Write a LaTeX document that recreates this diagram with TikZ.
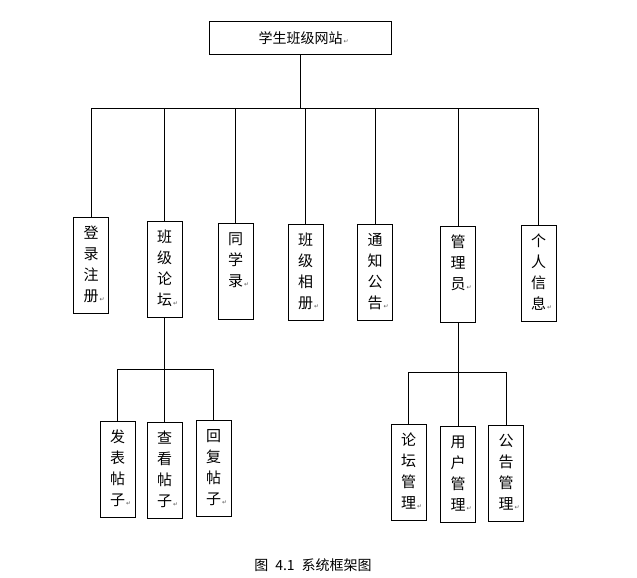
\documentclass[tikz,border=0pt]{standalone}
\usepackage{fontspec}
\newfontfamily\cjk{Noto Sans CJK SC}
\newfontfamily\symfont{DejaVu Sans}
\newcommand\ret{\rlap{\kern1pt\textcolor{black!65}{\symfont\fontsize{6}{6}\selectfont ↵}}}
\newcommand\vlabel[1]{\parbox[c][96pt][t]{35pt}{\centering\rule{0pt}{21pt}#1\ret}}
\tikzset{
  box/.style={draw, line width=1pt, inner sep=0pt, minimum width=35pt, minimum height=96pt, anchor=north, font=\cjk\fontsize{15}{21}\selectfont},
  wire/.style={line width=0.7pt},
}
\begin{document}
\begin{tikzpicture}[x=1pt,y=-1pt]
    \useasboundingbox (0,0) rectangle (637,578);
    \node[draw, line width=1pt, inner sep=0pt, minimum width=182pt, minimum height=33pt, font=\cjk\fontsize{14}{16}\selectfont] (site) at (300.5,38.5) {学生班级网站\ret};

    % second level
    \coordinate (bus) at (0,108);
    \foreach \x/\y/\name/\txt in {91/217/reg/{登\\录\\注\\册}, 164.5/221/forum/{班\\级\\论\\坛},
        235.5/223/alumni/{同\\学\\录}, 305.5/224/album/{班\\级\\相\\册}, 375/224/notice/{通\\知\\公\\告},
        458/226/admin/{管\\理\\员}, 538.5/225/info/{个\\人\\信\\息}} {
        \node[box] (\name) at (\x,\y) {\vlabel{\txt}};
        \draw[wire] (\name.north) -- (\name.north |- bus);
    }
    \draw[wire] (reg.north |- bus) -- (info.north |- bus);
    \draw[wire] (site.south) -- (site.south |- bus);

    % forum
    \coordinate (fbus) at (0,369);
    \foreach \x/\y/\name/\txt in {117.5/421/post/{发\\表\\帖\\子}, 164.5/422/view/{查\\看\\帖\\子},
        213.5/420/reply/{回\\复\\帖\\子}} {
        \node[box] (\name) at (\x,\y) {\vlabel{\txt}};
        \draw[wire] (\name.north) -- (\name.north |- fbus);
    }
    \draw[wire] (post.north |- fbus) -- (reply.north |- fbus);
    \draw[wire] (forum.south) -- (forum.south |- fbus);

    % admin
    \coordinate (abus) at (0,372);
    \foreach \x/\y/\name/\txt in {408.5/424/fmgr/{论\\坛\\管\\理}, 458/426/umgr/{用\\户\\管\\理},
        506/425/nmgr/{公\\告\\管\\理}} {
        \node[box] (\name) at (\x,\y) {\vlabel{\txt}};
        \draw[wire] (\name.north) -- (\name.north |- abus);
    }
    \draw[wire] (fmgr.north |- abus) -- (nmgr.north |- abus);
    \draw[wire] (admin.south) -- (admin.south |- abus);

    \node[font=\cjk\fontsize{14}{16}\selectfont] (caption) at (313,565) {图\enspace 4.1\enspace 系统框架图};
\end{tikzpicture}
\end{document}
